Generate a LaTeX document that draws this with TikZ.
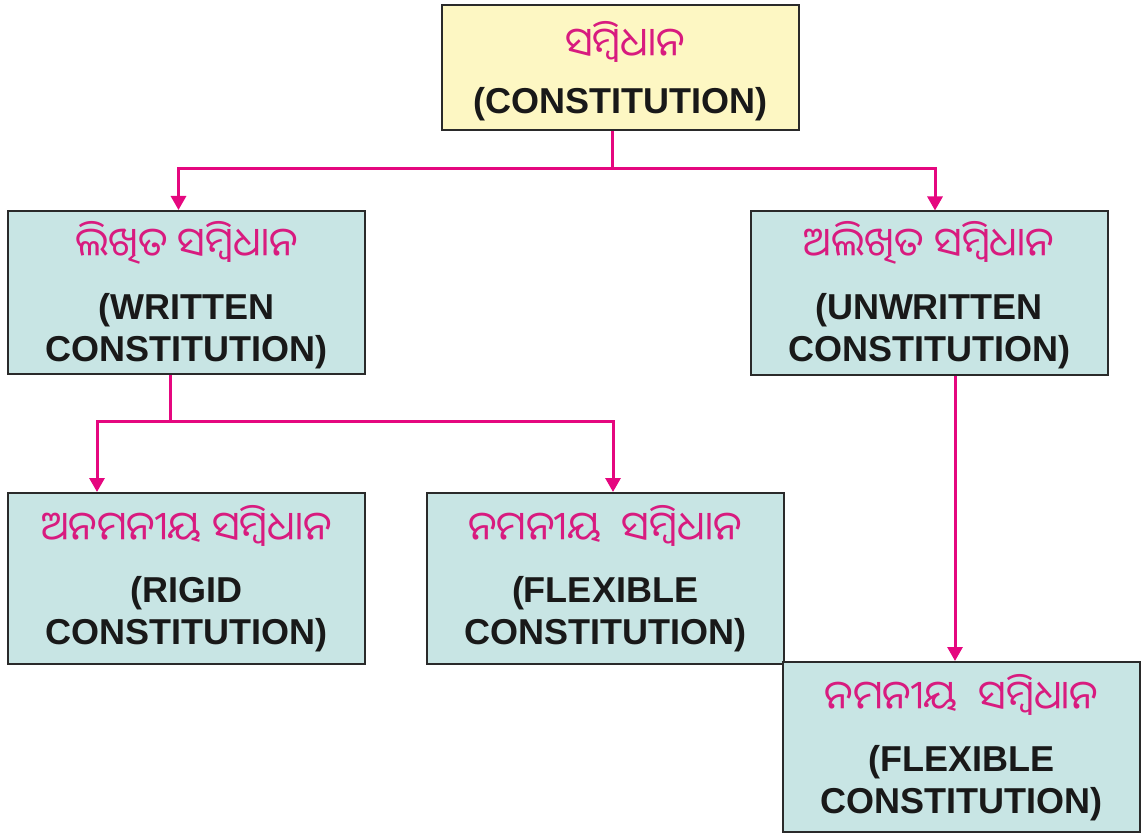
\documentclass[tikz,border=0pt]{standalone}
\usepackage{fontspec}
\setmainfont{Liberation Sans}
\newfontfamily\odia[Script=Oriya]{Noto Sans Oriya UI}
\usetikzlibrary{arrows.meta}
\definecolor{yfill}{HTML}{FDF7C3}
\definecolor{tfill}{HTML}{C8E5E4}
\definecolor{mag}{HTML}{E5077F}
\definecolor{otext}{HTML}{D81B7F}
\definecolor{bord}{HTML}{2A2A2A}
\begin{document}
\begin{tikzpicture}[x=1pt,y=-1pt,
  box/.style={draw=bord, line width=2pt, fill=tfill, minimum width=357pt, minimum height=163pt, inner sep=0pt},
  odtxt/.style={font=\odia\fontsize{40}{44}\selectfont, text=otext, inner sep=0pt},
  entxt/.style={font=\bfseries\fontsize{36}{40}\selectfont, text=black!90, inner sep=0pt, anchor=base},
  conn/.style={draw=mag, line width=3pt},
  arr/.style={conn, -{Triangle[length=14pt,width=15pt]}}]
\useasboundingbox (0,0) rectangle (1145,834);
% boxes
\node[box, fill=yfill, minimum height=125pt] (top) at (620,67.5) {};
\node[box] (w) at (186.5,292.5) {};
\node[box] (u) at (929,293) {};
\node[box, minimum height=171pt] (r) at (186.5,578.5) {};
\node[box, minimum height=171pt] (f) at (605,578.5) {};
\node[box, minimum height=170pt] (f2) at (961.5,747) {};
% texts
\node[odtxt] (topo) at (625,42) {ସମ୍ବିଧାନ};
\node[entxt] (tope) at (620,114) {(CONSTITUTION)};
\node[odtxt] (wo) at (186.5,243) {ଲିଖିତ ସମ୍ବିଧାନ};
\node[entxt] (we1) at (186.5,319) {(WRITTEN};
\node[entxt] (we2) at (186.5,361) {CONSTITUTION)};
\node[odtxt] (uo) at (929,243) {ଅଲିଖିତ ସମ୍ବିଧାନ};
\node[entxt] (ue1) at (929,319) {(UNWRITTEN};
\node[entxt] (ue2) at (929,361) {CONSTITUTION)};
\node[odtxt] (ro) at (186.5,526) {ଅନମନୀୟ ସମ୍ବିଧାନ};
\node[entxt] (re1) at (186.5,602) {(RIGID};
\node[entxt] (re2) at (186.5,644) {CONSTITUTION)};
\node[odtxt] (fo) at (605,526) {ନମନୀୟ \ ସମ୍ବିଧାନ};
\node[entxt] (fe1) at (605,602) {(FLEXIBLE};
\node[entxt] (fe2) at (605,644) {CONSTITUTION)};
\node[odtxt] (f2o) at (961.5,695) {ନମନୀୟ \ ସମ୍ବିଧାନ};
\node[entxt] (f2e1) at (961.5,771) {(FLEXIBLE};
\node[entxt] (f2e2) at (961.5,813) {CONSTITUTION)};
% connectors
\draw[arr] ([xshift=-8pt]top.south) -- ++(0,38) -| ([xshift=-8pt]w.north);
\draw[arr] ([xshift=-8pt]top.south) -- ++(0,38) -| ([xshift=6pt]u.north);
\draw[arr] ([xshift=-16.5pt]w.south) -- ++(0,46) -| ([xshift=-89.5pt]r.north);
\draw[arr] ([xshift=-16.5pt]w.south) -- ++(0,46) -| ([xshift=8pt]f.north);
\draw[arr] ([xshift=26pt]u.south) -- ([xshift=26pt]u.south |- f2.north);
\end{tikzpicture}
\end{document}
